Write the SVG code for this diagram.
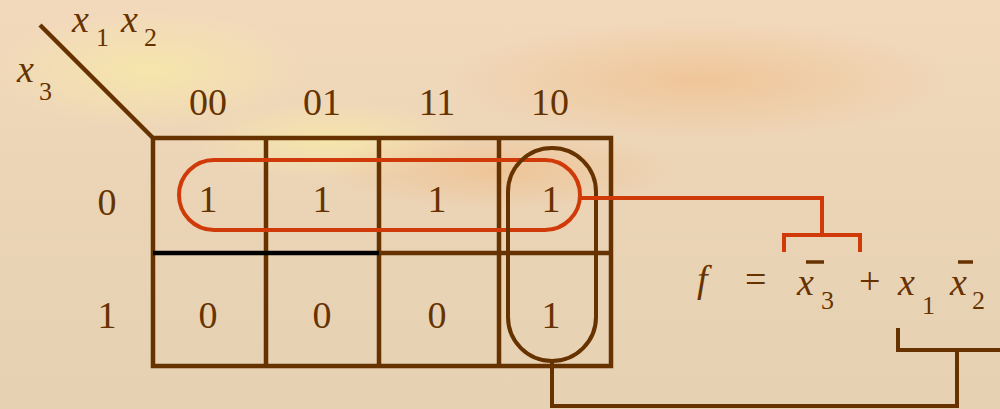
<svg xmlns="http://www.w3.org/2000/svg" width="1000" height="409" viewBox="0 0 1000 409">
<defs>
<linearGradient id="bg" x1="0" y1="0" x2="0" y2="1">
<stop offset="0" stop-color="#F2D9BC"/>
<stop offset="0.5" stop-color="#EBD4B6"/>
<stop offset="1" stop-color="#E6D1B3"/>
</linearGradient>
<radialGradient id="glow1" cx="0.5" cy="0.5" r="0.5">
<stop offset="0" stop-color="#F8E9A8" stop-opacity="0.8"/>
<stop offset="1" stop-color="#F8E9A8" stop-opacity="0"/>
</radialGradient>
<radialGradient id="glow2" cx="0.5" cy="0.5" r="0.5">
<stop offset="0" stop-color="#F0B070" stop-opacity="0.45"/>
<stop offset="1" stop-color="#F0B070" stop-opacity="0"/>
</radialGradient>
<style>
text{font-family:"Liberation Serif","Times New Roman",Tinos,"DejaVu Serif","Noto Serif",FreeSerif,serif;fill:#663300;}
.big{font-size:38px;}
.it{font-style:italic;}
.sub{font-size:26px;}
.g{fill:none;stroke:#663300;stroke-width:4.5;}
.r{fill:none;stroke:#D03A08;stroke-width:4;}
.b{fill:none;stroke:#663300;stroke-width:4;}
</style>
</defs>
<rect width="1000" height="409" fill="url(#bg)"/>
<ellipse cx="150" cy="70" rx="160" ry="60" fill="url(#glow1)"/>
<ellipse cx="330" cy="140" rx="140" ry="40" fill="url(#glow1)"/>
<ellipse cx="700" cy="80" rx="250" ry="60" fill="url(#glow2)"/>
<ellipse cx="500" cy="170" rx="180" ry="40" fill="url(#glow2)"/>

<g id="axis">
<line x1="40" y1="25" x2="154" y2="139" class="g"/>
<text class="big it" x="72" y="32">x</text>
<text class="sub" x="96" y="46">1</text>
<text class="big it" x="121" y="32">x</text>
<text class="sub" x="144" y="46">2</text>
<text class="big it" x="17" y="82">x</text>
<text class="sub" x="39" y="100">3</text>
</g>

<g id="headers" text-anchor="middle">
<text class="big" x="208" y="115">00</text>
<text class="big" x="322" y="115">01</text>
<text class="big" x="437" y="115">11</text>
<text class="big" x="550" y="115">10</text>
<text class="big" x="107" y="215">0</text>
<text class="big" x="107" y="328">1</text>
</g>

<g id="grid">
<rect x="153" y="138" width="458" height="228" class="g"/>
<line x1="266" y1="138" x2="266" y2="366" class="g"/>
<line x1="379" y1="138" x2="379" y2="366" class="g"/>
<line x1="499" y1="138" x2="499" y2="366" class="g"/>
<line x1="379" y1="253" x2="611" y2="253" class="g"/>
<line x1="153" y1="253" x2="379" y2="253" stroke="#000" stroke-width="4.5"/>
</g>

<g id="cells" text-anchor="middle">
<text class="big" x="208" y="212">1</text>
<text class="big" x="322" y="212">1</text>
<text class="big" x="437" y="212">1</text>
<text class="big" x="551" y="212">1</text>
<text class="big" x="208" y="328">0</text>
<text class="big" x="322" y="328">0</text>
<text class="big" x="437" y="328">0</text>
<text class="big" x="551" y="328">1</text>
</g>

<g id="loops">
<rect x="179" y="160" width="401" height="70" rx="35" ry="35" class="r"/>
<rect x="508" y="148" width="88" height="213" rx="44" ry="44" class="b"/>
</g>

<g id="connectors">
<polyline points="580,198 822,198 822,235" class="r"/>
<polyline points="784,252 784,235 860,235 860,252" class="r"/>
<polyline points="552,361 552,406 957,406 957,350" class="b" stroke-width="3.5"/>
<polyline points="898,328 898,350 1000,350" class="b" stroke-width="4.5"/>
</g>

<g id="equation">
<text class="big it" x="697" y="292">f</text>
<text class="big" x="745" y="292">=</text>
<text class="big it" x="797" y="295">x</text>
<line x1="806" y1="262" x2="824" y2="262" stroke="#663300" stroke-width="3.5"/>
<text class="sub" x="821" y="309">3</text>
<text class="big" x="859" y="294">+</text>
<text class="big it" x="898" y="295">x</text>
<text class="sub" x="922" y="314">1</text>
<text class="big it" x="950" y="295">x</text>
<line x1="958" y1="262" x2="973" y2="262" stroke="#663300" stroke-width="3.5"/>
<text class="sub" x="972" y="309">2</text>
</g>
</svg>
